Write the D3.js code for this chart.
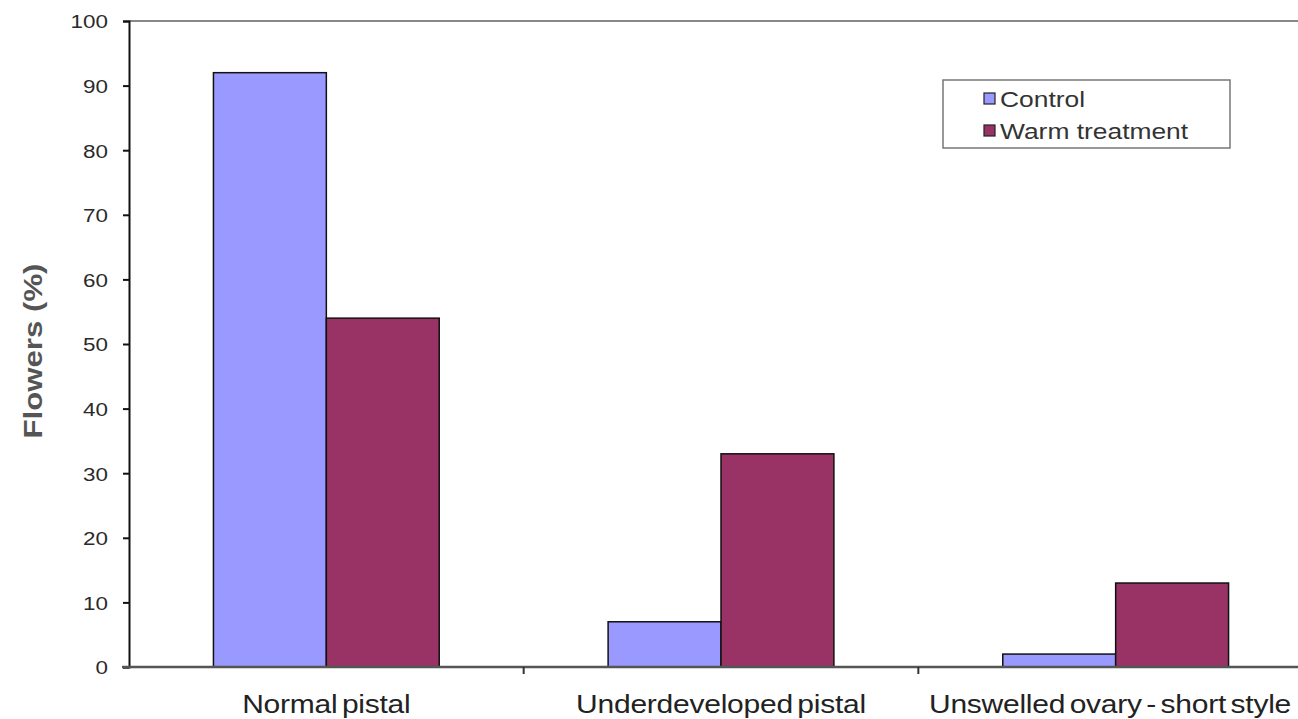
<!DOCTYPE html>
<html><head><meta charset="utf-8">
<script src="https://cdn.jsdelivr.net/npm/d3@7"></script>
<style>body{margin:0;background:#fff;} text{font-family:"Liberation Sans",Arial,sans-serif;}</style>
</head><body>
<svg id="c" width="1298" height="719"></svg>
<script>
const categories = ["Normal pistal", "Underdeveloped pistal", "Unswelled ovary - short style"];
const seriesNames = ["Control", "Warm treatment"];
const controlValues = [92, 7, 2];
const warmValues = [54, 33, 13];
const yTicks = [0, 10, 20, 30, 40, 50, 60, 70, 80, 90, 100];
const colors = ["#9999FF", "#993366"];

(function () {
const svg = d3.select("#c");
const pL = 129, pR = 1313, pT = 21, pB = 667;
const SX = 1.18;
const FF = "'Liberation Sans',Arial,sans-serif";

const x0 = d3.scaleBand().domain(categories).range([pL, pR]).padding(0);
const x1 = d3.scaleBand().domain(seriesNames).range([0, x0.bandwidth()]).paddingInner(0).paddingOuter(0.748);
const y = d3.scaleLinear().domain([0, 100]).range([pB, pT]);

const data = categories.map((c, i) => ({cat: c, vals: [controlValues[i], warmValues[i]]}));

// top border
svg.append("line").attr("x1", pL).attr("x2", 1298).attr("y1", y(100)).attr("y2", y(100))
  .attr("stroke", "#888").attr("stroke-width", 2);

// bars
const g = svg.append("g");
data.forEach(d => {
  d.vals.forEach((v, j) => {
    g.append("rect")
      .attr("x", x0(d.cat) + x1(seriesNames[j]))
      .attr("y", y(v))
      .attr("width", x1.bandwidth())
      .attr("height", y(0) - y(v))
      .attr("fill", colors[j])
      .attr("stroke", "#111")
      .attr("stroke-width", 1.5);
  });
});

// y axis
const yAxis = d3.axisLeft(y).tickValues(yTicks).tickSize(6).tickPadding(0);
const ya = svg.append("g").attr("transform", `translate(${pL},0)`).call(yAxis);
ya.select(".domain").attr("stroke", "#111").attr("stroke-width", 2);
ya.selectAll(".tick line").attr("stroke", "#111").attr("stroke-width", 2);
ya.selectAll("text").attr("font-size", 19).attr("fill", "#2a2a2a").style("font-family", FF)
  .attr("x", -21 / SX).attr("dy", "0.36em").attr("transform", `scale(${SX},1)`);

// x axis
const xa = svg.append("g").attr("transform", `translate(0,${pB})`)
  .call(d3.axisBottom(x0).tickSize(0).tickPadding(0));
xa.select(".domain").remove();
const XS = 1.2;
xa.selectAll("text").attr("font-size", 25).attr("fill", "#222").style("font-family", FF)
  .style("word-spacing", "-3px").style("letter-spacing", "-0.2px")
  .attr("y", 46).attr("dy", 0).attr("transform", `scale(${XS},1)`);
// keep labels inside the picture
xa.selectAll(".tick").each(function (d) {
  const t = d3.select(this).select("text");
  const w = t.node().getComputedTextLength() * XS;
  const cx = x0(d) + x0.bandwidth() / 2;
  const maxRight = 1291;
  if (cx + w / 2 > maxRight) {
    t.attr("x", (maxRight - w / 2 - cx) / XS);
  }
});
svg.append("line").attr("x1", pL - 7).attr("x2", 1298).attr("y1", pB).attr("y2", pB)
  .attr("stroke", "#555").attr("stroke-width", 2.5);
[1, 2].forEach(i => {
  const xb = x0(categories[i]);
  svg.append("line").attr("x1", xb).attr("x2", xb).attr("y1", pB).attr("y2", pB + 7)
    .attr("stroke", "#333").attr("stroke-width", 2);
});

// y label
svg.append("text").attr("transform", `translate(42,351) rotate(-90) scale(1.2,1)`)
  .attr("text-anchor", "middle").attr("font-size", 26).attr("font-weight", "bold").attr("fill", "#555")
  .text("Flowers (%)");

// legend
const lg = svg.append("g").attr("transform", "translate(943,80)");
lg.append("rect").attr("width", 287).attr("height", 68).attr("fill", "#fff").attr("stroke", "#777").attr("stroke-width", 1.5);
seriesNames.forEach((s, i) => {
  const ry = 19 + i * 32;
  lg.append("rect").attr("x", 41).attr("y", ry - 6).attr("width", 11).attr("height", 11)
    .attr("fill", colors[i]).attr("stroke", "#222").attr("stroke-width", 1.2);
  lg.append("text").attr("transform", `translate(57,${ry + 8}) scale(1.2,1)`)
    .attr("font-size", 22).attr("fill", "#333").text(s);
});
})();
</script>
</body></html>
